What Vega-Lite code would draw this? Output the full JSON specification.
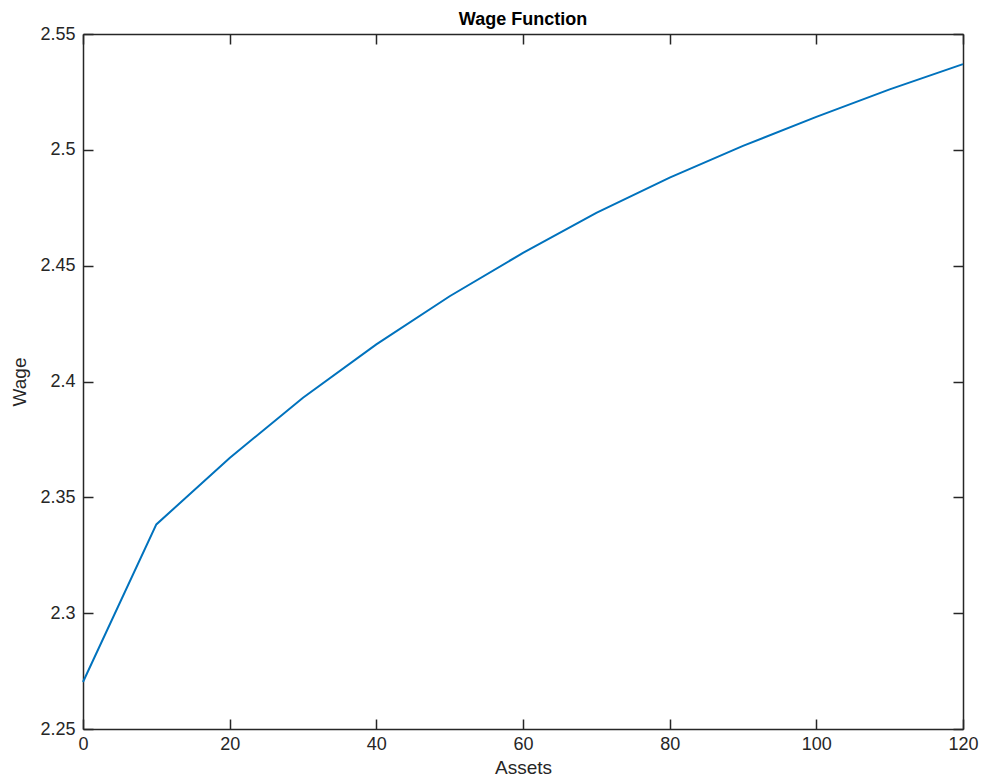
{
  "$schema": "https://vega.github.io/schema/vega-lite/v6.json",
  "width": 880,
  "height": 695,
  "autosize": {"type": "none"},
  "padding": {"left": 83, "top": 34, "right": 19, "bottom": 52},
  "background": "white",
  "title": {"text": "Wage Function", "font": "Liberation Sans", "fontSize": 18, "fontWeight": "bold", "color": "#000000", "offset": -4, "anchor": "middle"},
  "config": {
    "view": {"stroke": null},
    "axis": {"labelFont": "Liberation Sans", "titleFont": "Liberation Sans", "labelFontSize": 18, "titleFontSize": 19, "titleFontWeight": "normal", "labelColor": "#262626", "titleColor": "#262626", "domainColor": "#262626", "tickColor": "#262626", "domainWidth": 1.5, "tickWidth": 1.5, "tickSize": -10, "grid": false, "labelFlush": false}
  },
  "data": {"values": [
    {"Assets": 0, "Wage": 2.2703},
    {"Assets": 10, "Wage": 2.3383},
    {"Assets": 20, "Wage": 2.3670},
    {"Assets": 30, "Wage": 2.3930},
    {"Assets": 40, "Wage": 2.4160},
    {"Assets": 50, "Wage": 2.4368},
    {"Assets": 60, "Wage": 2.4555},
    {"Assets": 70, "Wage": 2.4728},
    {"Assets": 80, "Wage": 2.4880},
    {"Assets": 90, "Wage": 2.5017},
    {"Assets": 100, "Wage": 2.5142},
    {"Assets": 110, "Wage": 2.5261},
    {"Assets": 120, "Wage": 2.5370}
  ]},
  "layer": [
    {
      "mark": {"type": "line", "color": "#0072BD", "strokeWidth": 2},
      "encoding": {
        "x": {"field": "Assets", "type": "quantitative", "scale": {"domain": [0, 120], "nice": false, "zero": false},
              "axis": {"orient": "bottom", "values": [0, 20, 40, 60, 80, 100, 120], "title": "Assets", "labelFontSize": 18, "titleFontSize": 19, "labelPadding": 16, "titlePadding": 5, "labelFlush": false}},
        "y": {"field": "Wage", "type": "quantitative", "scale": {"domain": [2.25, 2.55], "nice": false, "zero": false},
              "axis": {"orient": "left", "values": [2.25, 2.3, 2.35, 2.4, 2.45, 2.5, 2.55], "format": "~g", "title": "Wage", "labelFontSize": 18, "titleFontSize": 19, "labelPadding": 18, "titlePadding": 10, "labelFlush": false}}
      }
    },
    {
      "mark": {"type": "line", "opacity": 0},
      "encoding": {
        "x": {"field": "Assets", "type": "quantitative", "axis": {"orient": "top", "values": [0, 20, 40, 60, 80, 100, 120], "labels": false, "title": null}},
        "y": {"field": "Wage", "type": "quantitative", "axis": {"orient": "right", "values": [2.25, 2.3, 2.35, 2.4, 2.45, 2.5, 2.55], "labels": false, "title": null}}
      }
    }
  ],
  "resolve": {"axis": {"x": "independent", "y": "independent"}}
}
